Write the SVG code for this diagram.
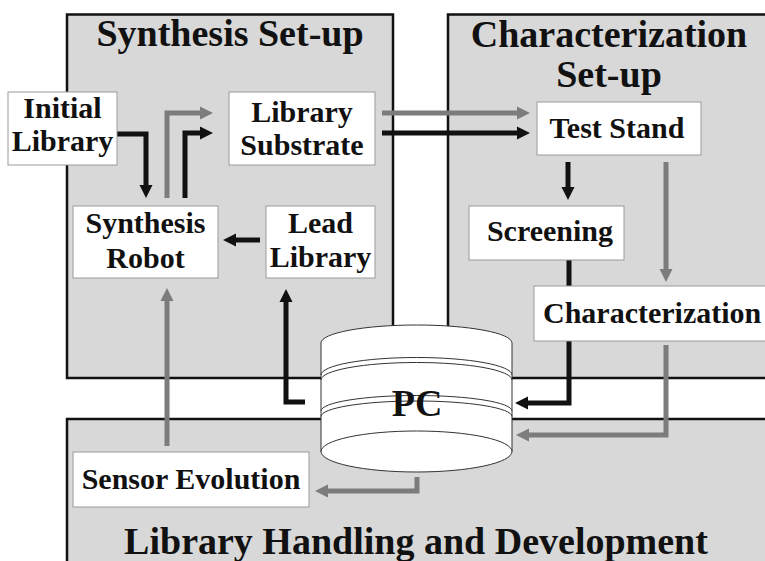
<svg xmlns="http://www.w3.org/2000/svg" width="765" height="561" viewBox="0 0 765 561">
<style>
.panel{fill:#d8d8d8;stroke:#111;stroke-width:2.5}
.box{fill:#fff;stroke:#9a9a9a;stroke-width:1}
.t{font-family:"Liberation Serif","Times New Roman",serif;font-weight:bold;fill:#111}
.title{font-size:38px}
.lbl{font-size:30px}
.blk{fill:none;stroke:#111;stroke-width:5}
.gry{fill:none;stroke:#7c7c7c;stroke-width:5}
.cyl{fill:#fff;stroke:#333;stroke-width:1}
.band{fill:none;stroke:#333;stroke-width:1}
</style>
<defs>
<marker id="ab" markerUnits="userSpaceOnUse" markerWidth="16" markerHeight="16" viewBox="0 -8 14 16" refX="1" refY="0" orient="auto"><path d="M0,-6.5 L13,0 L0,6.5 z" fill="#111"/></marker>
<marker id="ag" markerUnits="userSpaceOnUse" markerWidth="16" markerHeight="16" viewBox="0 -8 14 16" refX="1" refY="0" orient="auto"><path d="M0,-6.5 L13,0 L0,6.5 z" fill="#7c7c7c"/></marker>
</defs>
<rect width="765" height="561" fill="#fff"/>
<g id="panel-synthesis">
<rect class="panel" x="67" y="14.5" width="326" height="363.5"/>
<text class="t title" x="230" y="46" text-anchor="middle">Synthesis Set-up</text>
</g>
<g id="panel-characterization">
<rect class="panel" x="448" y="14.5" width="330" height="363.5"/>
<text class="t title" x="609" y="47" text-anchor="middle">Characterization</text>
<text class="t title" x="609" y="87" text-anchor="middle">Set-up</text>
</g>
<g id="panel-library">
<rect class="panel" x="67" y="419" width="720" height="160"/>
<text class="t title" x="416" y="554" text-anchor="middle">Library Handling and Development</text>
</g>
<g id="connectors">
<path class="blk" d="M117,134 H146 V186" marker-end="url(#ab)"/>
<path class="gry" d="M167,198 V113 H201" marker-end="url(#ag)"/>
<path class="blk" d="M185,198 V133 H201" marker-end="url(#ab)"/>
<path class="gry" d="M382,113 H518" marker-end="url(#ag)"/>
<path class="blk" d="M382,133 H518" marker-end="url(#ab)"/>
<path class="blk" d="M568,162 V188" marker-end="url(#ab)"/>
<path class="gry" d="M666,162 V270" marker-end="url(#ag)"/>
<path class="blk" d="M569,260 V403 H527" marker-end="url(#ab)"/>
<path class="gry" d="M666,345 V435 H528" marker-end="url(#ag)"/>
<path class="gry" d="M417,477 V491 H327" marker-end="url(#ag)"/>
<path class="gry" d="M167,446 V300" marker-end="url(#ag)"/>
<path class="blk" d="M305,402 H286 V301" marker-end="url(#ab)"/>
<path class="blk" d="M260,240 H235" marker-end="url(#ab)"/>
</g>
<g id="node-initial-library">
<rect class="box" x="8" y="92" width="109" height="73"/>
<text class="t lbl" x="62.5" y="118" text-anchor="middle">Initial</text>
<text class="t lbl" x="62.5" y="151" text-anchor="middle">Library</text>
</g>
<g id="node-library-substrate">
<rect class="box" x="229" y="92" width="146" height="73"/>
<text class="t lbl" x="302" y="122" text-anchor="middle">Library</text>
<text class="t lbl" x="302" y="155" text-anchor="middle">Substrate</text>
</g>
<g id="node-synthesis-robot">
<rect class="box" x="73" y="206" width="145" height="72"/>
<text class="t lbl" x="145.5" y="233" text-anchor="middle">Synthesis</text>
<text class="t lbl" x="145.5" y="268" text-anchor="middle">Robot</text>
</g>
<g id="node-lead-library">
<rect class="box" x="266" y="206" width="109" height="72"/>
<text class="t lbl" x="320.5" y="233" text-anchor="middle">Lead</text>
<text class="t lbl" x="320.5" y="267" text-anchor="middle">Library</text>
</g>
<g id="node-test-stand">
<rect class="box" x="537" y="102" width="164" height="53"/>
<text class="t lbl" x="617" y="138" text-anchor="middle">Test Stand</text>
</g>
<g id="node-screening">
<rect class="box" x="469" y="206" width="155" height="54"/>
<text class="t lbl" x="550" y="241" text-anchor="middle">Screening</text>
</g>
<g id="node-characterization">
<rect class="box" x="534" y="286" width="240" height="55"/>
<text class="t lbl" x="543" y="323">Characterization</text>
</g>
<g id="node-sensor-evolution">
<rect class="box" x="73" y="452" width="236" height="55"/>
<text class="t lbl" x="191" y="489" text-anchor="middle">Sensor Evolution</text>
</g>
<g id="node-pc">
<path class="cyl" d="M321,343 A95.5,18 0 0 1 512,343 V451.5 A95.5,20.5 0 0 1 321,451.5 Z"/>
<path class="band" d="M321,451.5 A95.5,20.5 0 0 1 512,451.5"/>
<path class="band" d="M321,375 A95.5,17.5 0 0 1 512,375"/>
<path class="band" d="M321,380 A95.5,17.5 0 0 1 512,380"/>
<path class="band" d="M321,411 A95.5,15.5 0 0 1 512,411"/>
<path class="band" d="M321,416.5 A95.5,15.5 0 0 1 512,416.5"/>
<text class="t title" x="417" y="416" text-anchor="middle">PC</text>
</g>
</svg>
